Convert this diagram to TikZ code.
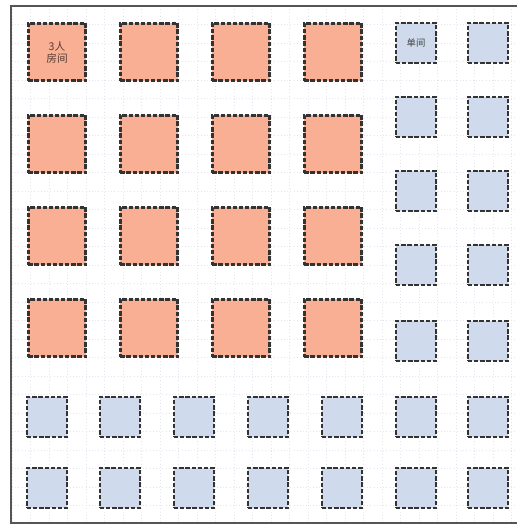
\documentclass[tikz,border=0pt]{standalone}
\usepackage{fontspec}
\newfontfamily\cjk{Noto Sans CJK SC}
\definecolor{orangefill}{HTML}{F8AF93}
\definecolor{bluefill}{HTML}{CFDBEC}
\definecolor{boxline}{HTML}{333333}
\definecolor{framecol}{HTML}{555555}
\definecolor{gridcol}{HTML}{E4E4EC}
\tikzset{
  bigroom/.style={draw=boxline, fill=orangefill, line width=1.8pt, dash pattern=on 3.2pt off 1.4pt, minimum width=43pt, minimum height=43pt, inner sep=0pt, align=center, font=\cjk\fontsize{8}{9}\selectfont, text=black!65!orangefill},
  smallroom/.style={draw=boxline, fill=bluefill, line width=1.8pt, dash pattern=on 3.2pt off 1.4pt, minimum width=30pt, minimum height=30pt, inner sep=0pt, align=center, font=\cjk\fontsize{7}{8}\selectfont, text=black!75},
}
\begin{document}
\begin{tikzpicture}[x=0.75pt,y=-0.75pt]
\useasboundingbox (0,0) rectangle (517,526);
\fill[white] (0,0) rectangle (517,526);
% faint background grid
\begin{scope}
\clip (12,6) rectangle (517,522);
\foreach \g in {0,...,28} {
  \draw[gridcol, line width=0.4pt, dotted] ({12+18.5*\g},6) -- ({12+18.5*\g},522);
  \draw[gridcol, line width=0.4pt, dotted] (12,{6+18.5*\g}) -- (517,{6+18.5*\g});
}
\end{scope}
% frame
\draw[framecol, line width=1.5pt] (530,5.5) -- (11,5.5) -- (11,523) -- (530,523);
% large orange rooms
\foreach \r [count=\ri from 0] in {52,144,236,328} {
  \foreach \c [count=\ci from 0] in {57,149,241,333} {
    \ifnum\ri=0 \ifnum\ci=0 \else
      \node[bigroom] (b\ri\ci) at (\c,\r) {};
    \fi \else
      \node[bigroom] (b\ri\ci) at (\c,\r) {};
    \fi
  }
}
\node[bigroom] (b00) at (57,52) {3人\\房间};
% right columns of small rooms
\foreach \r [count=\ri from 0] in {43,117,191,265,341,417,488} {
  \foreach \c [count=\ci from 5] in {416,488} {
    \ifnum\ri=0 \ifnum\ci=5 \else
      \node[smallroom] (s\ri\ci) at (\c,\r) {};
    \fi \else
      \node[smallroom] (s\ri\ci) at (\c,\r) {};
    \fi
  }
}
\node[smallroom] (s05) at (416,43) {单间};
% bottom rows of small rooms
\foreach \r [count=\ri from 5] in {417,488} {
  \foreach \c [count=\ci from 0] in {47,120,194,268,342} {
    \node[smallroom] (s\ri\ci) at (\c,\r) {};
  }
}
\end{tikzpicture}
\end{document}
